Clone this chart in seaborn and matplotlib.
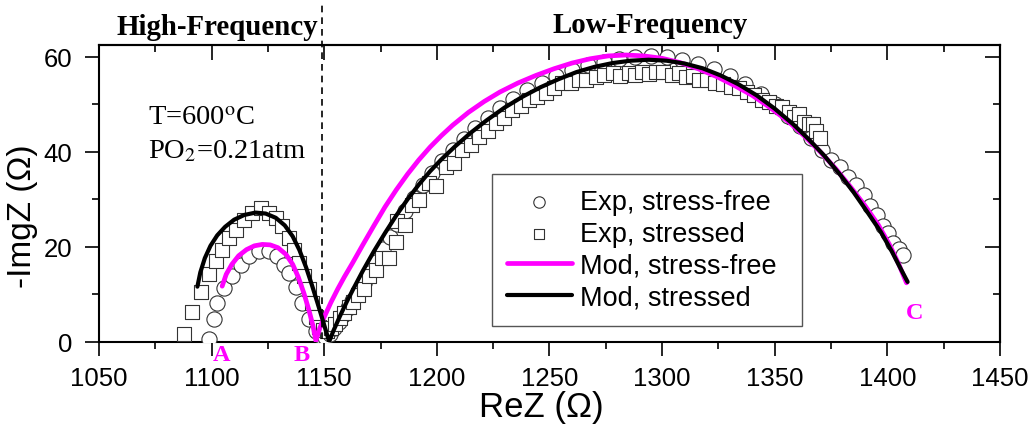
import numpy as np
import pandas as pd
import matplotlib
matplotlib.use("Agg")
import matplotlib.pyplot as plt
from matplotlib.ticker import MultipleLocator
import seaborn as sns

# ---- data ----
# Exp, stress-free (circles)
exp_free_x = [1098.8, 1101, 1102.5, 1105.5, 1109.2, 1112.9, 1116.6, 1121, 1125.5, 1129.2, 1132.2,
              1134.4, 1137.3, 1140.3, 1143.2, 1146.2,
              1148.5, 1150.5, 1152.5, 1154.5, 1156.5, 1158.5, 1160.5, 1162.5, 1165, 1167.5, 1170,
              1173, 1176, 1179, 1182.5, 1186, 1190, 1194, 1198, 1202.5, 1207, 1212, 1217, 1222.5,
              1228, 1234, 1240, 1246.5, 1253, 1260, 1267, 1274, 1281, 1288, 1295, 1302, 1309, 1316,
              1323, 1330, 1337, 1344, 1350, 1356, 1361, 1366, 1371, 1375, 1379, 1382.5, 1386,
              1389.5, 1392.5, 1395.5, 1398, 1400.5, 1402.5, 1405, 1407]
exp_free_y = [0.5, 4.7, 8.1, 11.3, 13.8, 16.2, 18, 19.1, 19.1, 18, 16.2,
              14.5, 11.6, 8.1, 4.7, 2.3,
              1.2, 1.0, 1.6, 2.8, 4.2, 5.6, 7.1, 8.6, 10.5, 12.4, 14.5,
              16.8, 19.5, 22, 24.8, 27.5, 30.3, 33, 35.5, 38, 40.4, 42.8, 45, 47.2,
              49.2, 51.2, 53, 54.6, 56, 57.2, 58.2, 59, 59.6, 60, 60.1, 59.9, 59.3, 58.5,
              57.4, 56, 54.3, 52.2, 50, 47.6, 45.5, 43, 40.4, 38.3, 36.9, 34.8, 33,
              31, 28.6, 26.6, 24.4, 22.8, 20.9, 19.6, 18.2]

# Exp, stressed (squares)
exp_str_x = [1087.7, 1091.4, 1095.1, 1098.8, 1101.8, 1104.7, 1107.7, 1110.7, 1114.4, 1118.1, 1121.8,
             1125.5, 1128.5, 1131.4, 1134.4, 1136.6, 1138.8, 1141, 1143.2, 1144.7, 1146.2, 1147.7,
             1149.5, 1151.2, 1153, 1155, 1157, 1159, 1161, 1163, 1165, 1167.5, 1170, 1173, 1175.5,
             1178.8, 1181.7, 1182.4, 1186, 1189, 1192.2, 1196.5, 1199.6, 1203.9, 1207.5, 1211.3,
             1215, 1218.7, 1222.5, 1226.1, 1230, 1233.5, 1237.5, 1241, 1244.5, 1248.3, 1252,
             1255.7, 1259.5, 1263.1, 1266, 1270.5, 1274, 1278, 1281.5, 1285.3, 1288, 1291.2, 1294,
             1297.1, 1300.5, 1304.5, 1307.5, 1310.4, 1313.5, 1316.4, 1320, 1323.7, 1327, 1330.5,
             1334, 1337.5, 1341, 1344.4, 1347.5, 1350.5, 1353.2, 1356.5, 1358.5, 1360.8, 1363,
             1365, 1367, 1368.5, 1370]
exp_str_y = [1.6, 6.2, 10.4, 14.2, 17, 19.4, 21.9, 23.6, 25.7, 27.1, 28.2,
             27.1, 26.1, 24.4, 21.9, 19.4, 16.6, 13.8, 11, 8.1, 5.3, 3.2,
             2.4, 2.3, 2.9, 3.8, 4.9, 6.1, 7.3, 8.3, 9.9, 11.2, 13.8, 15.2, 17.6,
             17.6, 21.1, 25.4, 24.5, 28.8, 29.9, 33.4, 32.7, 36.9, 37.6, 40.4,
             41.5, 43.2, 44.4, 46, 47.2, 48.8, 49.6, 51, 51.6, 52.4, 53.4,
             54.5, 54.6, 55.2, 55.2, 55.8, 56.2, 56.6, 56, 56.6, 56.2, 56.9, 56.5,
             56.9, 56.8, 56.2, 56.6, 55.8, 55.9, 55.1, 55.2, 54.4, 54.3, 53.6,
             53.4, 52.5, 52, 51, 50.6, 49.6, 49.5, 48.3, 47.4, 48, 46.3,
             45.8, 45.9, 44.3, 43]

# Mod, stress-free (magenta line)
mod_free_x = [1104.7, 1106.5, 1109, 1112, 1115.5, 1119, 1122.5, 1126, 1129.5, 1133, 1136,
              1138.5, 1141, 1143.3, 1145, 1146.3,
              1148, 1150, 1153, 1156, 1159, 1162.6, 1167, 1172, 1177, 1182, 1187, 1192, 1197,
              1202, 1207, 1214, 1221, 1228, 1236, 1244, 1252, 1260, 1268, 1276, 1284, 1292,
              1300, 1308, 1316, 1324, 1332, 1340, 1348, 1356, 1363, 1370, 1377, 1384, 1390,
              1396, 1401, 1405, 1408.5]
mod_free_y = [11.7, 14.2, 16.3, 18.1, 19.4, 20.2, 20.5, 20.4, 19.8, 18.4, 16.3,
              13.6, 10.2, 6.5, 3.4, 0.2,
              2.8, 5.2, 8.3, 11.1, 13.7, 16.6, 20.3, 24.4, 28.4, 32.0, 35.3, 38.3, 41.0,
              43.4, 45.6, 48.3, 50.6, 52.6, 54.5, 56.1, 57.5, 58.7, 59.6, 60.2, 60.4, 60.2,
              59.7, 58.8, 57.5, 55.9, 54.0, 51.9, 49.3, 46.4, 43.4, 40.1, 36.5, 32.4, 28.7,
              24.6, 20.4, 16.4, 12.4]

# Mod, stressed (black line)
mod_str_x = [1093.7, 1095, 1097, 1099.5, 1102.5, 1106, 1110, 1114.5, 1119.5, 1124, 1128.5,
             1132.5, 1136, 1139, 1142, 1144.5, 1147, 1149.5, 1152.2,
             1154, 1157, 1160, 1163, 1167, 1172, 1177, 1182, 1187, 1192, 1197, 1202, 1208,
             1215, 1222, 1230, 1238, 1246, 1254, 1262, 1270, 1278, 1286, 1294, 1302, 1310,
             1318, 1326, 1334, 1342, 1350, 1358, 1365, 1372, 1379, 1385, 1391, 1397, 1402,
             1406, 1409]
mod_str_y = [11.6, 14.6, 17.6, 20.2, 22.4, 24.2, 25.7, 26.7, 27.2, 27.0, 26.1,
             24.5, 22.2, 19.3, 15.6, 12.0, 8.2, 4.3, 0,
             2.2, 5.4, 8.4, 11.2, 14.8, 19.0, 22.9, 26.6, 30.0, 33.1, 35.9, 38.4, 41.1,
             44.0, 46.6, 49.3, 51.6, 53.6, 55.3, 56.8, 57.9, 58.7, 59.2, 59.4, 59.2, 58.6,
             57.6, 56.1, 54.2, 51.9, 49.1, 45.9, 42.7, 39.2, 35.2, 31.5, 27.4, 23.2, 19.0,
             15.3, 12.6]

x_ticks = [1050, 1100, 1150, 1200, 1250, 1300, 1350, 1400, 1450]
y_ticks = [0, 20, 40, 60]

sns.set_style("ticks")
plt.rcParams['font.family'] = ['Liberation Sans', 'DejaVu Sans']
plt.rcParams['mathtext.fontset'] = 'stix'
plt.rcParams.update({'text.color': 'black', 'axes.labelcolor': 'black',
                     'xtick.color': 'black', 'ytick.color': 'black',
                     'axes.edgecolor': 'black'})

fig = plt.figure(figsize=(10.34, 4.27), dpi=100)
ax = fig.add_axes([0.0957, 0.1974, 0.8714, 0.6948])

edge = '#333333'
sns.scatterplot(x=exp_free_x, y=exp_free_y, marker='o', s=120, facecolor='white',
                edgecolor=edge, linewidth=0.8, label='Exp, stress-free', ax=ax, zorder=3)
sns.scatterplot(x=exp_str_x, y=exp_str_y, marker='s', s=100, facecolor='white',
                edgecolor=edge, linewidth=0.8, label='Exp, stressed', ax=ax, zorder=4)
sns.lineplot(x=mod_free_x, y=mod_free_y, sort=False, estimator=None, color='#ff00ff',
             linewidth=3.4, label='Mod, stress-free', ax=ax, zorder=5)
sns.lineplot(x=mod_str_x, y=mod_str_y, sort=False, estimator=None, color='black',
             linewidth=3.0, label='Mod, stressed', ax=ax, zorder=6)

ax.set_xlim(1050, 1450)
ax.set_ylim(0, 62.5)
ax.set_xticks(x_ticks)
ax.set_yticks(y_ticks)
ax.xaxis.set_minor_locator(MultipleLocator(25))
ax.yaxis.set_minor_locator(MultipleLocator(10))
ax.tick_params(which='both', direction='out', width=1.2, labelsize=18.5, color='black',
               labelcolor='black')
ax.tick_params(which='major', length=10)
ax.tick_params(axis='x', which='major', pad=7.5)
ax.tick_params(axis='y', which='major', pad=9)
ax.tick_params(which='minor', length=5)
for sp in ax.spines.values():
    sp.set_linewidth(1.5)
    sp.set_color('black')

# mirrored ticks on top/right pointing inward
top = ax.secondary_xaxis('top')
top.set_xticks(x_ticks)
top.xaxis.set_minor_locator(MultipleLocator(25))
top.tick_params(which='both', direction='in', width=1.2, labeltop=False)
top.tick_params(which='major', length=11)
top.tick_params(which='minor', length=5)
top.spines['top'].set_linewidth(1.5)
right = ax.secondary_yaxis('right')
right.set_yticks(y_ticks)
right.yaxis.set_minor_locator(MultipleLocator(10))
right.tick_params(which='both', direction='in', width=1.2, labelright=False)
right.tick_params(which='major', length=11)
right.tick_params(which='minor', length=5)
right.spines['right'].set_linewidth(1.5)

ax.set_xlabel('ReZ (Ω)', fontsize=25)
ax.set_ylabel('-ImgZ (Ω)', fontsize=24)
ax.xaxis.set_label_coords(0.4906, -0.163)
ax.yaxis.set_label_coords(-0.068, 0.427)

# dashed divider between the two arcs
ax.plot([1149, 1149], [0.5, 71.5], ls=(0, (4, 3)), color='black', lw=1.2, clip_on=False, zorder=7)

serif = ['Liberation Serif', 'DejaVu Serif']
fig.text(0.2103, 0.918, 'High-Frequency', family=serif, weight='bold', fontsize=20.8,
         ha='center', va='baseline')
fig.text(0.6286, 0.922, 'Low-Frequency', family=serif, weight='bold', fontsize=20.8,
         ha='center', va='baseline')
ax.text(1071.8, 45.9, 'T=600$^{\\rm o}$C', family=serif, fontsize=20.5, va='baseline')
ax.text(1071.8, 38.9, 'PO$_2$=0.21atm', family=serif, fontsize=20.5, va='baseline')

for lab, lx, ly in [('A', 1104.2, -3.8), ('B', 1140, -3.8), ('C', 1412.3, 5.0)]:
    ax.text(lx, ly, lab, family=serif, weight='bold', fontsize=17.5, color='#ff00ff',
            ha='center', va='baseline', clip_on=False)

leg = ax.legend(loc='upper left', bbox_to_anchor=(0.436, 0.06, 0.344, 0.505), mode='expand',
                borderaxespad=0, fontsize=19.5, frameon=True, fancybox=False, framealpha=1,
                edgecolor='#555555', handlelength=2.4, handletextpad=0.3,
                labelspacing=0.22, borderpad=0.55, markerscale=0.75)
leg.get_frame().set_linewidth(1.0)

fig.savefig('out.png', dpi=100)
